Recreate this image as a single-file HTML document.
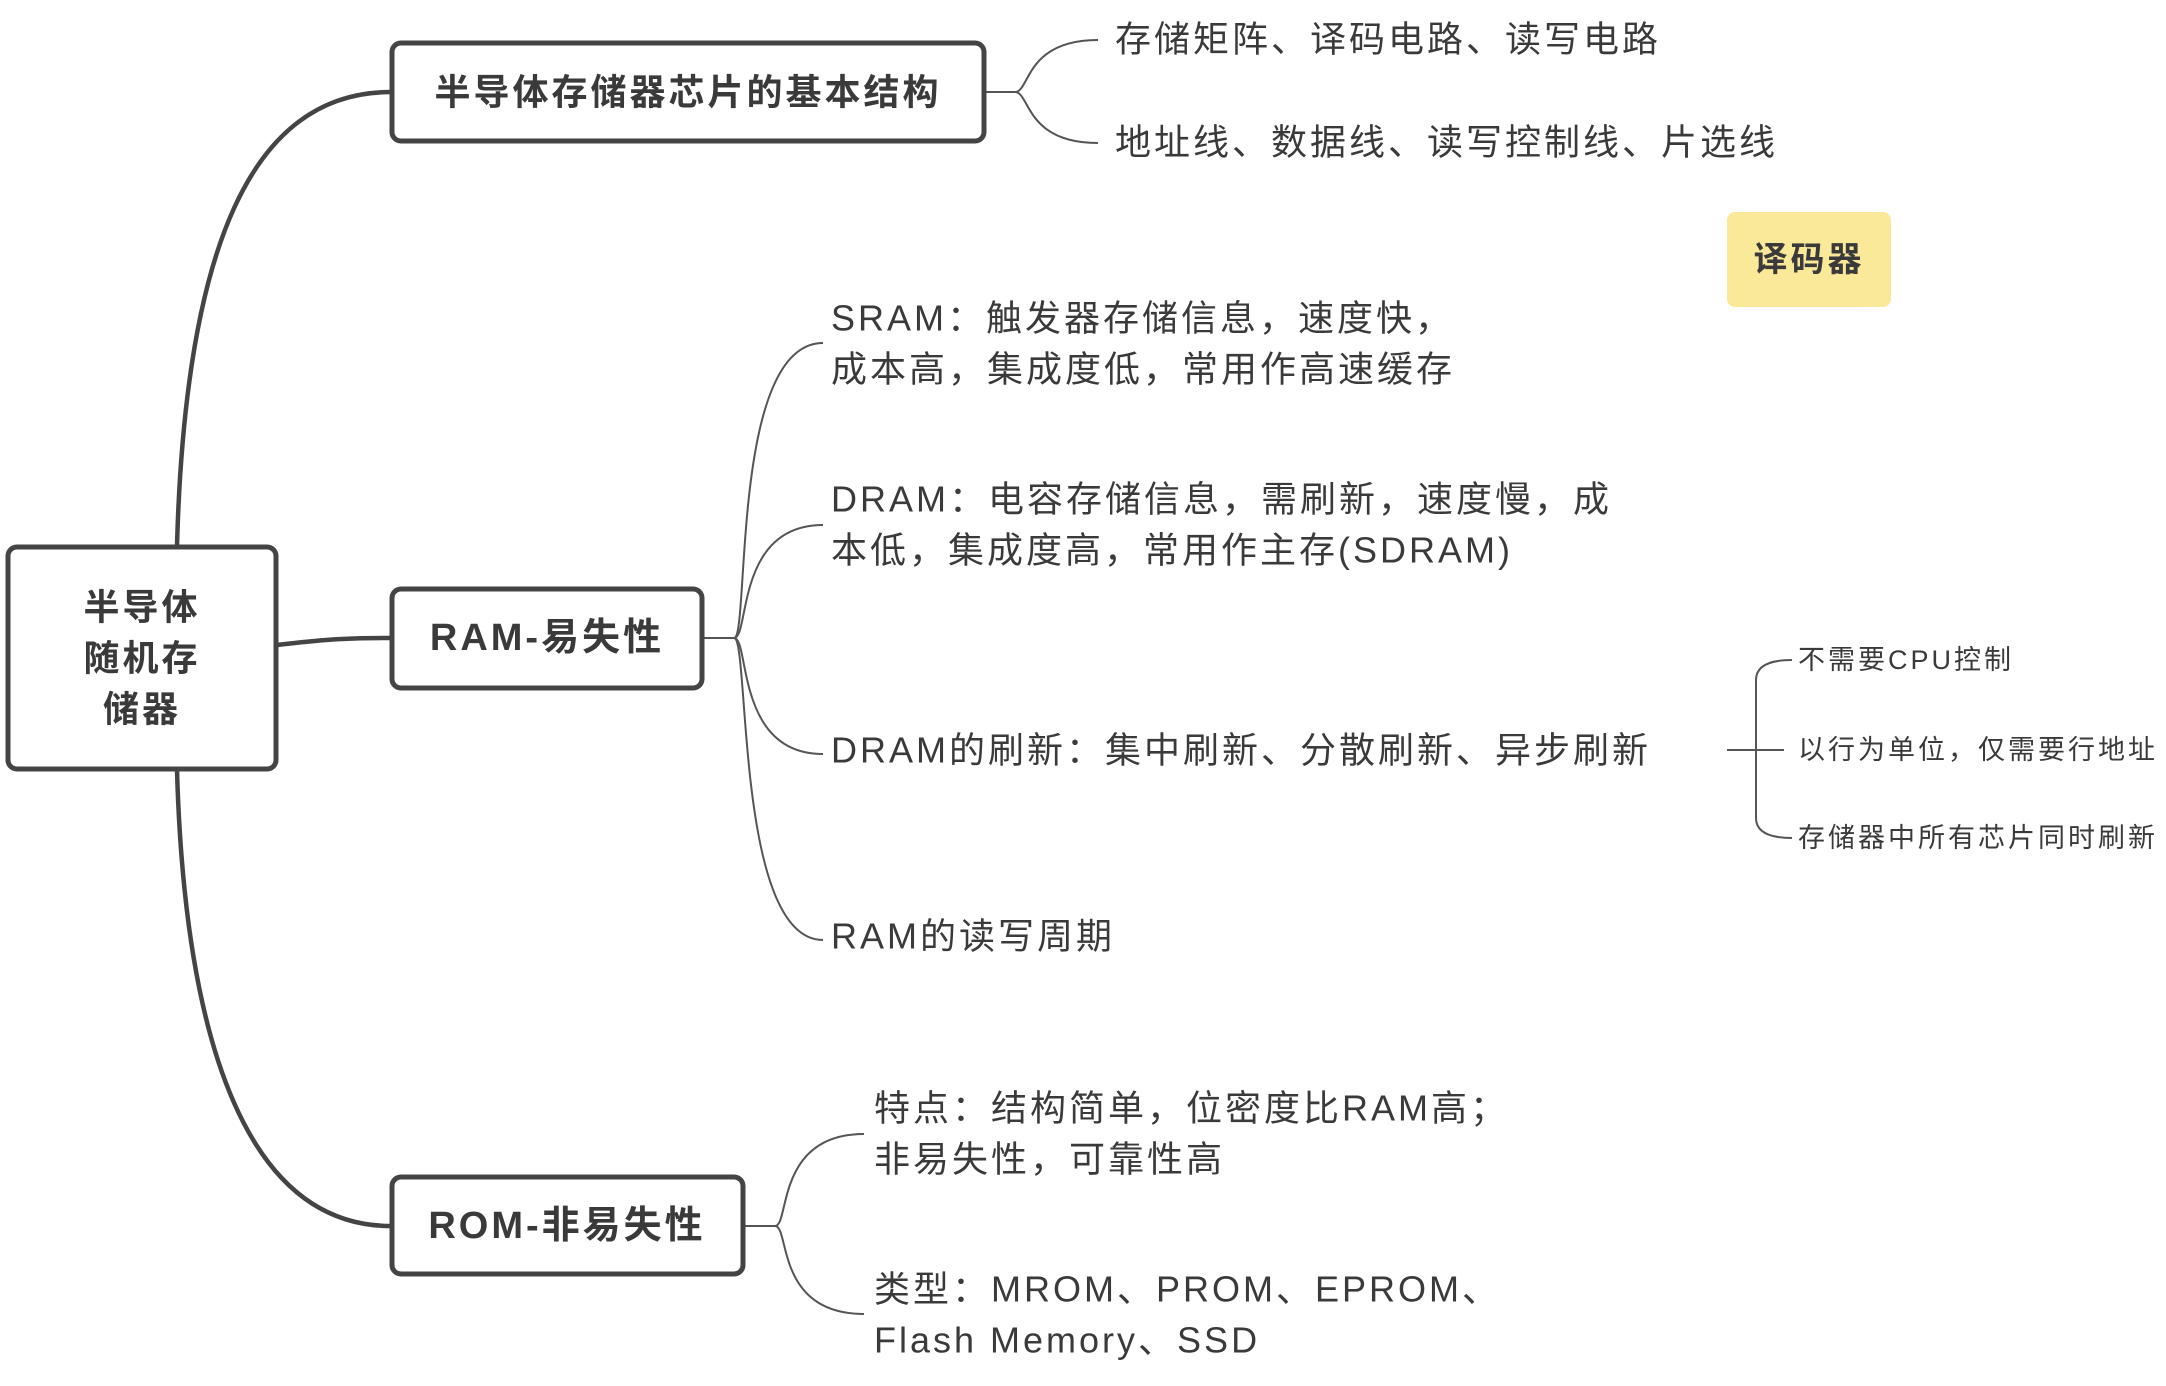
<!DOCTYPE html>
<html><head><meta charset="utf-8"><style>
html,body{margin:0;padding:0;background:#fff;}
svg{display:block}
text{font-family:"Liberation Sans","Noto Sans CJK SC",sans-serif;fill:#3a3a3a;dominant-baseline:central;letter-spacing:3px}
.b{font-weight:bold}
</style></head><body>
<svg width="2166" height="1386" viewBox="0 0 2166 1386" xmlns="http://www.w3.org/2000/svg">
<g fill="none" stroke="#444" stroke-width="4.5" stroke-linecap="round">
<path d="M177 546 C 185 250, 250 92, 391 92"/>
<path d="M177 770 C 185 1050, 250 1226, 391 1226"/>
<path d="M277 645 C 320 640, 340 638, 391 638"/>
</g>
<g fill="none" stroke="#555" stroke-width="2">
<path d="M985 92 L1015 92"/>
<path d="M1015 92 C1030 92, 1025 40, 1098 40"/>
<path d="M1015 92 C1030 92, 1025 143, 1098 143"/>
<path d="M703 638 L734 638"/>
<path d="M734 638 C750 638, 730 343, 823 343"/>
<path d="M734 638 C750 638, 735 525, 823 525"/>
<path d="M734 638 C750 638, 735 754, 823 754"/>
<path d="M734 638 C750 638, 735 940, 823 940"/>
<path d="M744 1226 L775 1226"/>
<path d="M775 1226 C790 1226, 775 1134, 864 1134"/>
<path d="M775 1226 C790 1226, 775 1314, 864 1314"/>
<path d="M1727 750 L1784 750"/>
<path d="M1792 660 Q1756 660 1756 680 L1756 818 Q1756 838 1792 838"/>
</g>
<g fill="#fff" stroke="#444" stroke-width="5">
<rect x="8" y="547" width="268" height="222" rx="9"/>
<rect x="392" y="43" width="592" height="98" rx="9"/>
<rect x="392" y="589" width="310" height="99" rx="9"/>
<rect x="392" y="1177" width="351" height="97" rx="9"/>
</g>
<rect x="1727" y="212" width="164" height="95" rx="8" fill="#fbe99a"/>
<text x="1809" y="260" font-size="34" text-anchor="middle" class="b">译码器</text>
<text x="142" y="607" font-size="36" text-anchor="middle" class="b">半导体</text>
<text x="142" y="658" font-size="36" text-anchor="middle" class="b">随机存</text>
<text x="142" y="709" font-size="36" text-anchor="middle" class="b">储器</text>
<text x="688" y="92" font-size="36" text-anchor="middle" class="b">半导体存储器芯片的基本结构</text>
<text x="547" y="638" font-size="38" text-anchor="middle" class="b">RAM-易失性</text>
<text x="567" y="1226" font-size="38" text-anchor="middle" class="b">ROM-非易失性</text>
<g font-size="36">
<text x="1115" y="39">存储矩阵、译码电路、读写电路</text>
<text x="1115" y="142">地址线、数据线、读写控制线、片选线</text>
<text x="831" y="318">SRAM：触发器存储信息，速度快，</text>
<text x="831" y="369">成本高，集成度低，常用作高速缓存</text>
<text x="831" y="499">DRAM：电容存储信息，需刷新，速度慢，成</text>
<text x="831" y="550">本低，集成度高，常用作主存(SDRAM)</text>
<text x="831" y="750">DRAM的刷新：集中刷新、分散刷新、异步刷新</text>
<text x="831" y="936">RAM的读写周期</text>
<text x="874" y="1108">特点：结构简单，位密度比RAM高；</text>
<text x="874" y="1159">非易失性，可靠性高</text>
<text x="874" y="1289">类型：MROM、PROM、EPROM、</text>
<text x="874" y="1340">Flash Memory、SSD</text>
</g>
<g font-size="27">
<text x="1798" y="660">不需要CPU控制</text>
<text x="1798" y="750">以行为单位，仅需要行地址</text>
<text x="1798" y="838">存储器中所有芯片同时刷新</text>
</g>
</svg>
</body></html>
